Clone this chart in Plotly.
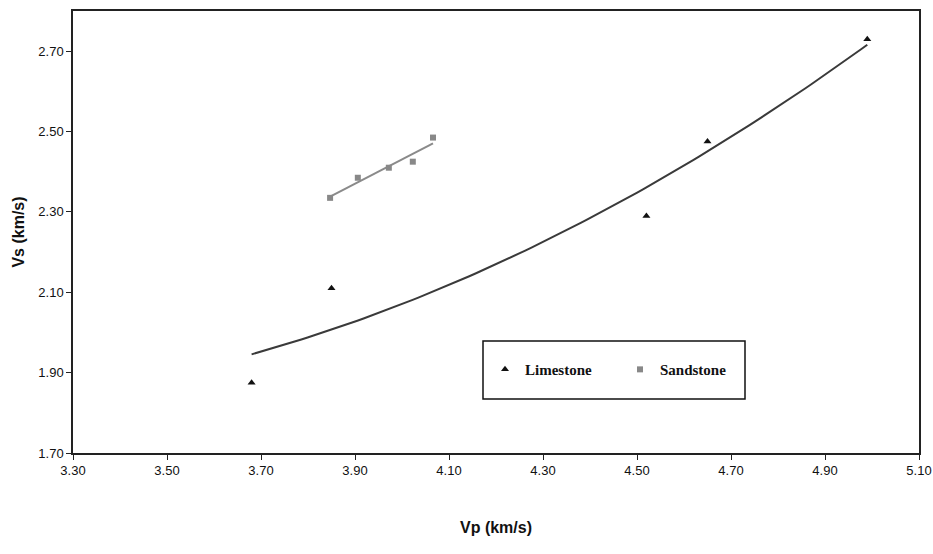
import numpy as np
import plotly.graph_objects as go

# Limestone samples
lime_vp = [3.68, 3.85, 4.52, 4.65, 4.99]
lime_vs = [1.875, 2.11, 2.29, 2.475, 2.73]

# Sandstone samples
sand_vp = [3.847, 3.906, 3.972, 4.023, 4.066]
sand_vs = [2.335, 2.385, 2.41, 2.425, 2.485]

x_ticks = [3.30, 3.50, 3.70, 3.90, 4.10, 4.30, 4.50, 4.70, 4.90, 5.10]
y_ticks = [1.70, 1.90, 2.10, 2.30, 2.50, 2.70]

# Trend lines (least-squares fits of the samples, as in the spreadsheet chart)
lime_coef = np.polyfit(lime_vp, lime_vs, 2)
lime_tx = np.linspace(min(lime_vp), max(lime_vp), 100)
lime_ty = np.polyval(lime_coef, lime_tx)

sand_coef = np.polyfit(sand_vp, sand_vs, 1)
sand_tx = np.array([min(sand_vp), max(sand_vp)])
sand_ty = np.polyval(sand_coef, sand_tx)

fig = go.Figure()
fig.add_trace(go.Scatter(x=lime_tx, y=lime_ty, mode="lines",
                         line=dict(color="#3a3a3a", width=2), showlegend=False, hoverinfo="skip"))
fig.add_trace(go.Scatter(x=sand_tx, y=sand_ty, mode="lines",
                         line=dict(color="#8a8a8a", width=2), showlegend=False, hoverinfo="skip"))
fig.add_trace(go.Scatter(x=lime_vp, y=lime_vs, mode="markers", name="<b>Limestone</b>",
                         marker=dict(symbol="triangle-up", size=7, color="#111111")))
fig.add_trace(go.Scatter(x=sand_vp, y=sand_vs, mode="markers", name="<b>Sandstone</b>",
                         marker=dict(symbol="square", size=6, color="#888888")))

tick_font = dict(family="Liberation Sans Narrow, Arial Narrow, Liberation Sans, Arial", size=13, color="#111111")
title_font = dict(family="Liberation Sans, Arial", size=16, color="#111111")

fig.update_layout(
    width=933, height=554,
    margin=dict(l=73, r=14, t=11, b=101, autoexpand=False),
    paper_bgcolor="white", plot_bgcolor="white",
    showlegend=True,
    legend=dict(
        orientation="h", x=0.487, y=0.226, xanchor="left", yanchor="top",
        borderwidth=0, bgcolor="rgba(0,0,0,0)",
        font=dict(family="Liberation Serif, Times New Roman, serif", size=15, color="#111111"),
        itemwidth=30, entrywidth=90, entrywidthmode="pixels",
    ),
    shapes=[dict(type="rect", xref="paper", yref="paper",
                 x0=(483 - 73) / 846, x1=(745 - 73) / 846,
                 y0=(453 - 399) / 442, y1=(453 - 341) / 442,
                 line=dict(color="#111111", width=1.5), fillcolor="rgba(0,0,0,0)", layer="above")],
    xaxis=dict(
        range=[3.30, 5.10], tickvals=x_ticks, tickformat=".2f",
        showgrid=False, zeroline=False, automargin=False,
        showline=True, linecolor="#222222", linewidth=1.5, mirror=True,
        ticks="outside", ticklen=5, tickcolor="#222222", tickwidth=1.2,
        tickfont=tick_font,
        title=dict(text="<b>Vp (km/s)</b>", font=title_font, standoff=44),
    ),
    yaxis=dict(
        range=[1.70, 2.80], tickvals=y_ticks, tickformat=".2f",
        showgrid=False, zeroline=False, automargin=False,
        showline=True, linecolor="#222222", linewidth=1.5, mirror=True,
        ticks="outside", ticklen=5, tickcolor="#222222", tickwidth=1.2,
        tickfont=tick_font,
        title=dict(text="<b>Vs (km/s)</b>", font=title_font, standoff=10),
    ),
)

fig.write_html("out.html",
               config={"displayModeBar": False},
               post_script="document.body.style.margin='0';document.body.style.padding='0';")
